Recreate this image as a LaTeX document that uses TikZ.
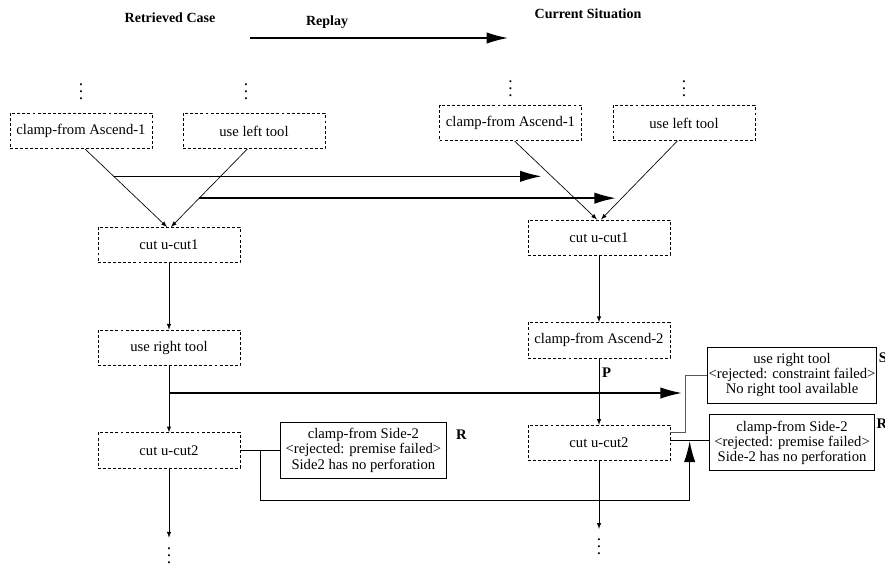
\documentclass[tikz,border=0pt]{standalone}
\usepackage{fontspec}
\setmainfont{Liberation Serif}
\usetikzlibrary{positioning,calc,arrows.meta}
\newcommand\stackdots{\vbox{\baselineskip=5.3pt\lineskiplimit=0pt\hbox{.}\hbox{.}\hbox{.}}}

\begin{document}
\begin{tikzpicture}[x=0.75pt,y=-0.75pt,node distance=50pt,
				opbox/.style={draw,dash pattern=on 2.2pt off 1.6pt,line width=0.5pt,minimum width=106.5pt,minimum height=26.5pt,inner sep=1pt,font=\fontsize{11}{12}\selectfont},
				rejbox/.style={draw,line width=0.6pt,minimum width=124pt,minimum height=42pt,inner sep=1pt,align=center,font=\fontsize{11}{11.3}\selectfont},
				head/.style={inner sep=0pt,font=\fontsize{10.5}{12}\selectfont\bfseries},
				tag/.style={inner sep=0pt,font=\fontsize{11}{12}\selectfont\bfseries},
				dotsnode/.style={inner sep=1pt,font=\fontsize{13}{13}\selectfont},
				link/.style={-latex,line width=0.5pt},
				plain/.style={line width=0.6pt},
				replay/.style={-{Latex[length=16pt,width=8.5pt]},line width=1pt}]
				\useasboundingbox (0,0) rectangle (885,565);
				\node[head] (hret)    at (170,18)               {Retrieved Case};
				\node[head] (hrep)    at (327,22)               {Replay};
				\node[head] (hcur)    at (588,14)               {Current Situation};
				\coordinate (rpa)     at (250,38);
				\coordinate (rpb)     at (508,38);
				
				\node[opbox]  (lclamp) at (81,131)              {clamp-from Ascend-1};
				\node[opbox]  (luse)   at (254,131)             {use left tool};
				\node[opbox]  (lcut1)  at (169,245)             {cut u-cut1};
				\node[opbox]  (lright) [below=of lcut1]         {use right tool};
				\node[opbox]  (lcut2)  [below=of lright]        {cut u-cut2};
				\node[rejbox] (lrej)   [right=30pt of lcut2]    {clamp-from Side-2\\<rejected: premise failed>\\Side2 has no perforation};
				
				\node[opbox]  (rclamp) at (510.5,123)           {clamp-from Ascend-1};
				\node[opbox]  (ruse)   at (684,123)             {use left tool};
				\node[opbox]  (rcut1)  at (599,237.5)           {cut u-cut1};
				\node[opbox]  (rasc2)  [below=of rcut1]         {clamp-from Ascend-2};
				\node[opbox]  (rcut2)  [below=of rasc2]         {cut u-cut2};
				\node[rejbox] (rrejR)  [right=29pt of rcut2]    {clamp-from Side-2\\<rejected: premise failed>\\Side-2 has no perforation};
				\node[rejbox] (rrejS)  [above=8pt of rrejR]     {use right tool\\<rejected: constraint failed>\\No right tool available};
				
				\node[tag,anchor=north west] (ltagR) at ([shift={(7pt,-6pt)}]lrej.north east)  {R};
				\node[tag,anchor=north west] (rtagS) at ([shift={(1pt,-4pt)}]rrejS.north east) {S};
				\node[tag,anchor=north west] (rtagR) at ([shift={(1pt,-3pt)}]rrejR.north east) {R};
				
				\node[dotsnode] (ldots1) [above=9pt of lclamp]            {\stackdots};
				\node[dotsnode] (ldots2) [above=9pt of luse,xshift=-6pt]  {\stackdots};
				\node[dotsnode] (rdots1) [above=5pt of rclamp]            {\stackdots};
				\node[dotsnode] (rdots2) [above=5pt of ruse]              {\stackdots};
				\node[dotsnode] (ldots3) [below=58pt of lcut2]            {\stackdots};
				\node[dotsnode] (rdots3) [below=57pt of rcut2]            {\stackdots};
				
				\coordinate (sa)  at ([yshift=7.5pt]rcut2.east);
				\coordinate (ra)  at ([yshift=1.5pt]rcut2.east);
				\coordinate (sj)  at ($(rcut2.east)!0.4!(rrejR.west)$);
				\coordinate (rj)  at ($(rcut2.east)!0.5!(rrejR.west)$);
				\coordinate (lj)  at ($(lcut2.east)!0.5!(lrej.west)$);
				\coordinate (low) at ($(lcut2.south)+(0,32)$);
				\coordinate (r1)  at ($([xshift=3pt]lclamp.south)!0.35!([xshift=-1.5pt]lcut1.north)$);
				\coordinate (e1)  at ($([xshift=3pt]rclamp.south)!0.44!([xshift=-1.5pt]rcut1.north)$);
				\coordinate (r2)  at ($([xshift=-5pt]luse.south)!0.63!([xshift=1.5pt]lcut1.north)$);
				\coordinate (e2)  at ($([xshift=-5pt]ruse.south)!0.72!([xshift=1.5pt]rcut1.north)$);
				\coordinate (r3)  at ($(lright.south)!0.41!(lcut2.north)$);
				
				\draw[link] ([xshift=3pt]lclamp.south) -- ([xshift=-1.5pt]lcut1.north);
				\draw[link] ([xshift=-5pt]luse.south)  -- ([xshift=1.5pt]lcut1.north);
				\draw[link] (lcut1) -- (lright);
				\draw[link] (lright) -- (lcut2);
				\draw[link,shorten >=6pt] (lcut2) -- (ldots3);
				\draw[plain] (lcut2) -- (lrej);
				
				\draw[link] ([xshift=3pt]rclamp.south) -- ([xshift=-1.5pt]rcut1.north);
				\draw[link] ([xshift=-5pt]ruse.south)  -- ([xshift=1.5pt]rcut1.north);
				\draw[link] (rcut1) -- (rasc2);
				\draw[link] (rasc2) -- node[tag,pos=0.22,right=2pt] (ptag) {P} (rcut2);
				\draw[link,shorten >=6pt] (rcut2) -- (rdots3);
				\draw[plain,black!65] (sa) -- (sj |- sa) |- (rrejS.west);
				\draw[plain] (ra) -- (ra -| rrejR.west);
				
				\draw[replay] (rpa) -- (rpb);
				\draw[replay,shorten >=7pt] (r1) -- (r1 -| e1);
				\draw[replay,shorten >=5pt] (r2) -- (r2 -| e2);
				\draw[replay,shorten >=3pt] (r3) -- (r3 -| sj);
				\draw[replay] (lj) -- (lj |- low) -- (rj |- low) -- (rj |- ra);
\end{tikzpicture}
\end{document}
